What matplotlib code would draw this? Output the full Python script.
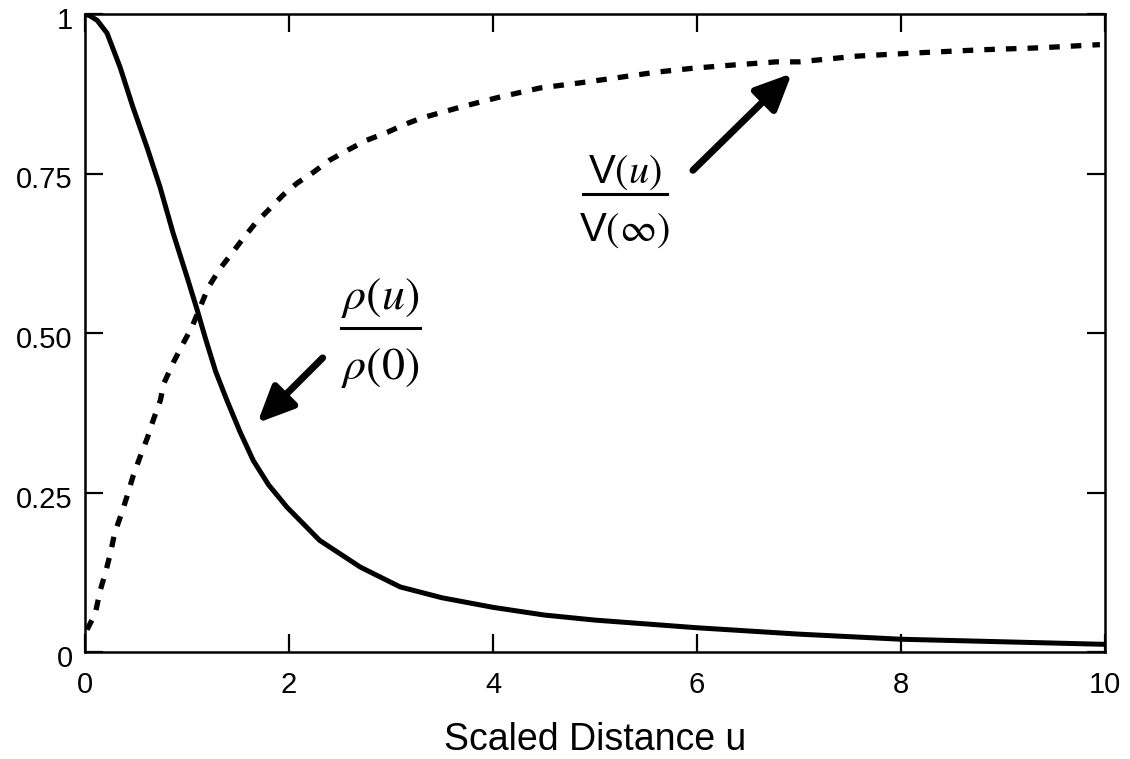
import numpy as np
import matplotlib.pyplot as plt
import matplotlib.transforms as mtransforms

plt.rcParams['font.family'] = ['Liberation Sans', 'DejaVu Sans']
plt.rcParams['mathtext.fontset'] = 'stix'

# rho(u)/rho(0), solid curve
u_rho = [0, 0.05, 0.12, 0.216, 0.343, 0.47, 0.61, 0.735, 0.863, 1.0, 1.10, 1.18, 1.28,
         1.39, 1.52, 1.65, 1.8, 1.98, 2.3, 2.7, 3.09, 3.5, 4.0, 4.5, 5.0, 6.0, 7.0, 8.0,
         9.0, 10.0]
rho = [1.0, 0.997, 0.99, 0.97, 0.917, 0.854, 0.79, 0.729, 0.657, 0.588, 0.536, 0.492, 0.44,
       0.395, 0.345, 0.30, 0.262, 0.227, 0.175, 0.133, 0.102, 0.085, 0.07, 0.058, 0.05,
       0.038, 0.028, 0.02, 0.016, 0.012]

# V(u)/V(inf), dotted curve
u_v = [0.02, 0.1, 0.15, 0.2, 0.25, 0.29, 0.36, 0.41, 0.47, 0.54, 0.61, 0.67, 0.74, 0.77,
       0.87, 0.95, 1.05, 1.21, 1.32, 1.44, 1.55, 1.67, 1.80, 1.94, 2.08, 2.24, 2.40,
       2.58, 2.76, 2.97, 3.12, 3.30, 3.68, 4.07, 4.46, 4.85, 5.21, 5.61, 5.96, 6.35,
       6.78, 7.0, 7.57, 8.15, 8.8, 9.36, 9.95]
vel = [0.035, 0.06, 0.097, 0.124, 0.155, 0.186, 0.218, 0.243, 0.275, 0.306, 0.335, 0.364,
       0.395, 0.42, 0.455, 0.48, 0.51, 0.572, 0.60, 0.625, 0.648, 0.672, 0.693, 0.716,
       0.735, 0.752, 0.771, 0.787, 0.802, 0.815, 0.826, 0.837, 0.854, 0.87, 0.884, 0.892,
       0.90, 0.909, 0.915, 0.92, 0.925, 0.925, 0.934, 0.939, 0.944, 0.947, 0.952]

xticks = [0, 2, 4, 6, 8, 10]
yticks = [0, 0.25, 0.5, 0.75, 1]
ylabels = ['0', '0.25', '0.50', '0.75', '1']

fig = plt.figure(figsize=(11.3, 7.59), dpi=100)
ax = fig.add_axes([85/1130, 1-652/759, 1020/1130, 638/759])

ax.plot(u_rho, rho, color='k', lw=3.6, solid_capstyle='butt', solid_joinstyle='round')
ax.plot(u_v, vel, color='k', lw=3.8, linestyle=(0, (2.0, 2.1)), dash_capstyle='butt')

ax.set_xlim(0, 10)
ax.set_ylim(0, 1)
ax.set_xticks(xticks)
ax.set_yticks(yticks)
ax.set_yticklabels(ylabels)
ax.tick_params(direction='in', length=13, width=1.6, labelsize=21,
               top=True, right=True)
ax.tick_params(axis='x', pad=14)
ax.tick_params(axis='y', pad=9)
shift = mtransforms.ScaledTranslation(0, -4/100, fig.dpi_scale_trans)
for lab in ax.get_yticklabels():
    lab.set_transform(lab.get_transform() + shift)
for s in ax.spines.values():
    s.set_linewidth(1.8)
ax.set_xlabel('Scaled Distance u', fontsize=27, labelpad=16)

arrow = dict(arrowstyle='-|>,head_length=2.2,head_width=1.0', lw=5, color='k',
             shrinkA=0, shrinkB=0, mutation_scale=10)
ax.annotate('', xy=(1.69, 0.359), xytext=(2.33, 0.461), arrowprops=arrow)
ax.annotate('', xy=(6.93, 0.907), xytext=(5.96, 0.755), arrowprops=arrow)

# rho fraction
ax.text(2.89, 0.555, r'$\rho(u)$', fontsize=33, ha='center', va='center')
ax.plot([2.51, 3.28], [0.508, 0.508], color='k', lw=2.2)
ax.text(2.89, 0.445, r'$\rho(0)$', fontsize=33, ha='center', va='center')

# V fraction
ax.text(5.29, 0.751, r'V$(u)$', fontsize=29, ha='center', va='center')
ax.plot([4.88, 5.71], [0.718, 0.718], color='k', lw=2.2)
ax.text(5.29, 0.661, r'V$(\infty)$', fontsize=29, ha='center', va='center')

fig.savefig('out.png', dpi=100)
